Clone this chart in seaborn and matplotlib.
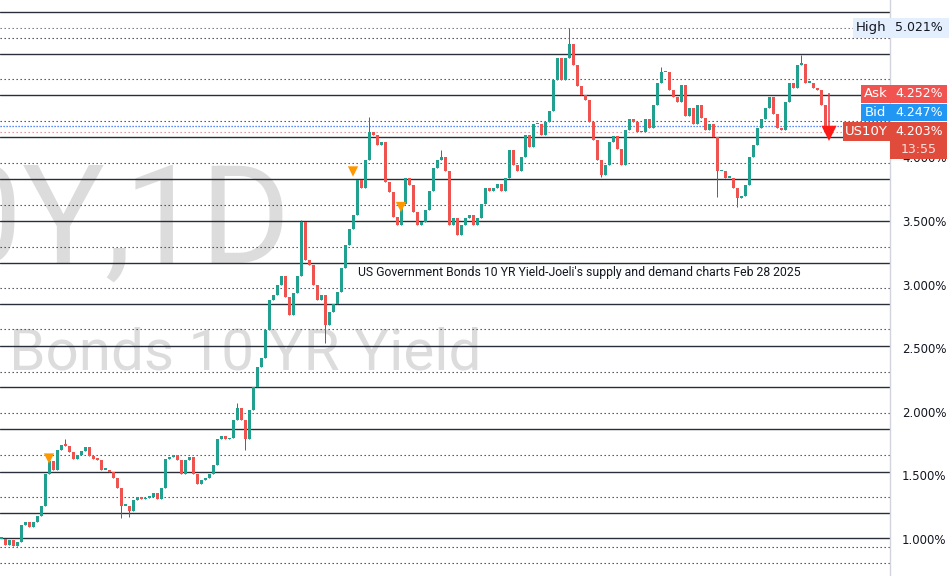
import numpy as np
import matplotlib
matplotlib.use("Agg")
import matplotlib.pyplot as plt
import matplotlib.transforms as mtransforms
from matplotlib.patches import Rectangle
import seaborn as sns

# daily closes of the US 10Y yield (%)
closes = [
    1.00, 0.95, 0.99, 0.94, 0.97, 1.11, 1.13, 1.09, 1.13, 1.18,
    1.26, 1.51, 1.61, 1.54, 1.70, 1.74, 1.73, 1.68, 1.63, 1.66,
    1.69, 1.72, 1.65, 1.63, 1.62, 1.54, 1.54, 1.52, 1.48, 1.40,
    1.26, 1.26, 1.22, 1.30, 1.33, 1.31, 1.32, 1.33, 1.36, 1.31,
    1.40, 1.63, 1.64, 1.66, 1.62, 1.51, 1.62, 1.64, 1.51, 1.43,
    1.46, 1.48, 1.51, 1.58, 1.78, 1.81, 1.78, 1.79, 1.93, 2.03,
    1.93, 1.78, 2.01, 2.19, 2.35, 2.42, 2.64, 2.88, 2.92, 3.00,
    3.07, 2.90, 2.76, 2.93, 3.07, 3.49, 3.19, 3.15, 3.00, 2.88,
    2.92, 2.68, 2.78, 2.85, 2.94, 3.13, 3.31, 3.44, 3.55, 3.82,
    3.76, 3.98, 4.20, 4.18, 4.10, 4.12, 3.81, 3.73, 3.53, 3.47,
    3.63, 3.84, 3.78, 3.57, 3.47, 3.49, 3.59, 3.74, 3.92, 3.98,
    4.00, 3.89, 3.47, 3.52, 3.39, 3.47, 3.52, 3.55, 3.47, 3.52,
    3.63, 3.76, 3.74, 3.76, 3.79, 3.74, 3.84, 4.06, 3.94, 3.89,
    4.00, 4.18, 4.08, 4.26, 4.26, 4.18, 4.28, 4.37, 4.61, 4.78,
    4.61, 4.78, 4.89, 4.73, 4.56, 4.49, 4.45, 4.28, 4.14, 3.98,
    3.86, 3.94, 4.12, 4.17, 4.07, 3.94, 4.22, 4.30, 4.28, 4.20,
    4.20, 4.30, 4.23, 4.41, 4.59, 4.67, 4.67, 4.53, 4.48, 4.44,
    4.57, 4.33, 4.39, 4.26, 4.41, 4.31, 4.22, 4.26, 4.16, 3.89,
    3.89, 3.84, 3.84, 3.76, 3.68, 3.70, 3.78, 4.00, 4.10, 4.23,
    4.30, 4.39, 4.48, 4.34, 4.23, 4.22, 4.44, 4.59, 4.55, 4.73,
    4.74, 4.59, 4.59, 4.55, 4.53, 4.41, 4.203,
]

# long wicks that stick out of the path
spike_highs = {16: 1.78, 59: 2.07, 75: 3.51, 92: 4.32, 110: 4.06,
               142: 5.021, 165: 4.71, 200: 4.81}
spike_lows = {30: 1.16, 32: 1.17, 61: 1.70, 81: 2.54, 150: 3.85,
              179: 3.69, 184: 3.61}

# supply / demand levels
solid_levels = [5.146, 4.815, 4.492, 4.161, 3.831, 3.502, 3.172, 2.846,
                2.516, 2.193, 1.862, 1.526, 1.201, 1.004]
dotted_levels = [4.941, 4.618, 4.287, 3.957, 3.626, 3.298, 2.972, 2.650,
                 2.313, 1.988, 1.657, 1.329, 0.933, 0.807]

high_value = 5.021
ask_value = 4.252
bid_value = 4.247
last_value = 4.203
last_time = "13:55"

signal_idx = [12, 88, 100]
signal_val = [1.63, 3.89, 3.61]

arrow_idx = 207
arrow_top = 4.51
arrow_tip = 4.15

price_ticks = [1.0, 1.5, 2.0, 2.5, 3.0, 3.5, 4.0]

UP = "#22a08f"
DOWN = "#ef5350"

sns.set_theme(style="white")
plt.rcParams["font.family"] = ["DejaVu Sans"]

fig = plt.figure(figsize=(9.49, 5.76), dpi=100)
ax = fig.add_axes([0, 0, 890 / 949, 1])
ax.set_facecolor("white")

# candles
idx = np.arange(len(closes))
c = np.array(closes)
o = np.concatenate([[closes[0]], c[:-1]])
hi = np.maximum(o, c)
lo = np.minimum(o, c)
for k, v in spike_highs.items():
    hi[k] = max(hi[k], v)
for k, v in spike_lows.items():
    lo[k] = min(lo[k], v)
up = c >= o
cols = np.where(up, UP, DOWN)
ax.vlines(idx, lo, hi, color="#5d606b", lw=0.7, zorder=3)
body = np.maximum(np.abs(c - o), 0.012)
ax.bar(idx, body, bottom=np.minimum(o, c), width=0.75,
       color=cols, edgecolor="none", zorder=4)

# levels
for v in solid_levels:
    ax.axhline(v, color="#2a2e39", lw=1.0, zorder=2)
for v in dotted_levels:
    ax.axhline(v, color="#3a3e49", lw=0.8, ls=(0, (1.2, 2.4)), zorder=2)
ax.axhline(high_value, color="#6a6d78", lw=0.8, ls=(0, (1.2, 2.4)), zorder=2)
ax.axhline(bid_value, color="#2962ff", lw=0.9, ls=(0, (1, 1.4)), zorder=2)
ax.axhline(last_value, color="#f08080", lw=0.8, ls=(0, (1.2, 2.4)), zorder=2)

# signals
ax.scatter(signal_idx, signal_val, marker="v", s=55, color="#ff9800",
           edgecolor="none", zorder=6)

# red arrow
ax.vlines(arrow_idx, arrow_tip + 0.06, arrow_top, color="#f23645", lw=1.1, zorder=6)
ax.scatter([arrow_idx], [arrow_tip + 0.04], marker="v", s=120, color="#ff1a1a",
           edgecolor="none", zorder=6)

# watermark (symbol, interval / description)
wm = dict(transform=ax.transAxes, ha="right", va="baseline", color="#dcdcdc",
          family="Roboto", zorder=0, clip_on=True)
ax.text(132 / 890, 1 - 263 / 576, "US10Y,", fontsize=99, **wm)
ax.text(291 / 890, 1 - 263 / 576, "1D", fontsize=99, **wm)
ax.text(481 / 890, 1 - 369 / 576, "US Government Bonds 10 YR Yield",
        fontsize=42, **wm)

ax.text(358 / 890, 1 - 273 / 576,
        "US Government Bonds 10 YR Yield-Joeli's supply and demand charts Feb 28 2025",
        transform=ax.transAxes, ha="left", va="center", fontsize=8.8,
        color="#131722", family="Roboto", zorder=7)

ax.set_xlim(-0.25, 222.25)
ax.set_ylim(0.705, 5.240)
ax.set_xticks([])
ax.yaxis.tick_right()
ax.set_yticks(price_ticks)
ax.set_yticklabels([f"{v:.3f}%" for v in price_ticks])
ax.tick_params(axis="y", length=0, pad=8.6, labelsize=8.5, labelcolor="#131722")
for s in ["top", "left", "bottom"]:
    ax.spines[s].set_visible(False)
ax.spines["right"].set_color("#d1d4dc")
ax.spines["right"].set_linewidth(1)

# price scale labels
tr = mtransforms.blended_transform_factory(fig.transFigure, ax.transData)
px = 1 / 127.0


def box(x0, x1, y0, y1, color):
    ax.add_patch(Rectangle((x0 / 949, y0), (x1 - x0) / 949, y1 - y0,
                           transform=tr, color=color, clip_on=False, zorder=10,
                           lw=0))


def label(xp, y, s, color, ha="center", size=9):
    ax.text(xp / 949, y, s, transform=tr, ha=ha, va="center", fontsize=size,
            color=color, clip_on=False, zorder=11)


box(853, 949, high_value - 10 * px, high_value + 10 * px, "#e3effd")
label(871.5, high_value, "High", "#131722", size=9.5)
label(919, high_value, f"{high_value:.3f}%", "#131722")

ask_y = 4.50
box(861, 890, ask_y - 9 * px, ask_y + 9 * px, "#f05350")
box(890, 947, ask_y - 9 * px, ask_y + 9 * px, "#f05350")
label(875.5, ask_y, "Ask", "white", size=9.5)
label(919, ask_y, f"{ask_value:.3f}%", "white")

bid_y = 4.354
box(861, 890, bid_y - 8.5 * px, bid_y + 8.5 * px, "#2196f3")
box(890, 947, bid_y - 8.5 * px, bid_y + 8.5 * px, "#2196f3")
label(875.5, bid_y, "Bid", "white", size=9.5)
label(919, bid_y, f"{bid_value:.3f}%", "white")

box(843, 890, last_value - 9.5 * px, last_value + 9.5 * px, "#e04b3c")
box(890, 947, last_value - 27 * px, last_value + 9.5 * px, "#e04b3c")
label(866.5, last_value, "US10Y", "white", size=9.5)
label(919, last_value, f"{last_value:.3f}%", "white")
label(919, last_value - 17.5 * px, last_time, "#fde0dc")

fig.savefig("out.png", dpi=100)
